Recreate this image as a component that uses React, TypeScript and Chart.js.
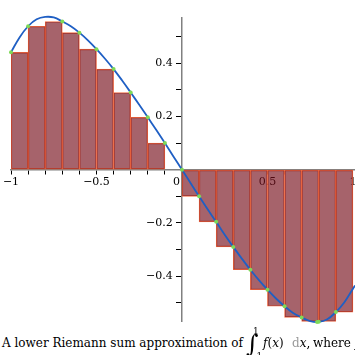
import React, { useEffect, useRef } from "react";
import { Chart, registerables } from "chart.js";

Chart.register(...registerables);

// Riemann rectangles: centre of each sub-interval and the lower-sum height
const barCenters = [
  -0.95, -0.85, -0.75, -0.65, -0.55, -0.45, -0.35, -0.25, -0.15, -0.05,
  0.05, 0.15, 0.25, 0.35, 0.45, 0.55, 0.65, 0.75, 0.85, 0.95,
];
const barHeights = [
  0.441, 0.539, 0.557, 0.515, 0.453, 0.378, 0.29, 0.197, 0.1, 0,
  -0.1, -0.196, -0.29, -0.376, -0.451, -0.513, -0.555, -0.571, -0.571, -0.535,
];

// the curve f(x)
const curveX = [
  -1, -0.95, -0.9, -0.85, -0.8, -0.75, -0.7, -0.65, -0.6, -0.55, -0.5,
  -0.45, -0.4, -0.35, -0.3, -0.25, -0.2, -0.15, -0.1, -0.05, 0,
  0.05, 0.1, 0.15, 0.2, 0.25, 0.3, 0.35, 0.4, 0.45, 0.5,
  0.55, 0.6, 0.65, 0.7, 0.75, 0.8, 0.85, 0.9, 0.95, 1, 1.012,
];
const curveY = [
  0.441, 0.497, 0.539, 0.565, 0.574, 0.572, 0.557, 0.539, 0.515, 0.486, 0.453,
  0.417, 0.378, 0.335, 0.29, 0.244, 0.197, 0.149, 0.1, 0.05, 0,
  -0.05, -0.1, -0.149, -0.196, -0.244, -0.29, -0.334, -0.376, -0.415, -0.451,
  -0.484, -0.513, -0.538, -0.555, -0.569, -0.572, -0.562, -0.535, -0.498, -0.447, -0.435,
];

// sample points where each rectangle touches the curve
const sampleX = [-1, -0.9, -0.7, -0.6, -0.5, -0.4, -0.3, -0.2, -0.1, 0, 0.1, 0.2, 0.3, 0.4, 0.5, 0.6, 0.7, 0.79, 0.8, 0.9];
const sampleY = [0.441, 0.539, 0.557, 0.515, 0.453, 0.378, 0.29, 0.197, 0.1, 0, -0.1, -0.196, -0.29, -0.376, -0.451, -0.513, -0.555, -0.572, -0.571, -0.535];

const xLabelValues = [-1, -0.5, 0, 0.5, 1];
const yLabelValues = [0.4, 0.2, -0.2, -0.4];

const fmt = (v: number) => {
  const s = String(Math.abs(v));
  return v < 0 ? "\u2212" + s : s;
};

const capFont = "'DejaVu Serif', serif";

function App() {
  const ref = useRef<HTMLCanvasElement | null>(null);

  useEffect(() => {
    if (!ref.current) return;
    const chart = new Chart(ref.current, {
      type: "bar",
      data: {
        datasets: [
          {
            type: "scatter",
            data: sampleX.map((x, i) => ({ x, y: sampleY[i] })),
            backgroundColor: "#7ed957",
            borderColor: "#7ed957",
            pointRadius: 2,
            borderWidth: 0,
            clip: false,
            order: 1,
          } as any,
          {
            type: "line",
            data: curveX.map((x, i) => ({ x, y: curveY[i] })),
            borderColor: "#1f5fc4",
            borderWidth: 1.8,
            pointRadius: 0,
            tension: 0.4,
            fill: false,
            clip: false,
            order: 2,
          } as any,
          {
            type: "bar",
            data: barCenters.map((x, i) => ({ x, y: barHeights[i] })),
            backgroundColor: "rgba(118, 15, 27, 0.65)",
            borderColor: "#f26a40",
            borderWidth: 0.75,
            borderSkipped: false,
            barPercentage: 1,
            categoryPercentage: 1,
            order: 3,
          } as any,
        ],
      },
      options: {
        animation: false,
        responsive: false,
        devicePixelRatio: 1,
        layout: { padding: { left: 11, top: 18, right: 0, bottom: 3 } },
        plugins: { legend: { display: false }, tooltip: { enabled: false } },
        scales: {
          x: {
            type: "linear",
            min: -1,
            max: 1.012,
            offset: false,
            position: { y: 0 } as any,
            grid: { drawOnChartArea: false, drawTicks: true, tickLength: 4, tickColor: "#000", offset: false },
            border: { display: true, color: "#808080", width: 1.5 },
            ticks: {
              stepSize: 0.1,
              includeBounds: false,
              autoSkip: false,
              maxRotation: 0,
              padding: 2,
              color: "#000",
              font: { family: "'DejaVu Serif', serif", size: 11 },
              callback: (v: any) => {
                const n = Number(v);
                const m = xLabelValues.find((t) => Math.abs(t - n) < 1e-6);
                if (m === undefined) return "";
                if (m === 0) return "0\u2003";
                return fmt(m);
              },
            },
          },
          y: {
            type: "linear",
            min: -0.57,
            max: 0.57,
            position: { x: 0 } as any,
            grid: { drawOnChartArea: false, drawTicks: true, tickLength: 5, tickColor: "#000" },
            border: { display: true, color: "#808080", width: 1.5 },
            ticks: {
              stepSize: 0.1,
              includeBounds: false,
              autoSkip: false,
              padding: 4,
              color: "#000",
              font: { family: "'DejaVu Serif', serif", size: 11 },
              callback: (v: any) => {
                const n = Number(v);
                const m = yLabelValues.find((t) => Math.abs(t - n) < 1e-6);
                return m === undefined ? "" : fmt(m) + "\u2007\u2009";
              },
            },
          },
        },
      } as any,
    });
    return () => chart.destroy();
  }, []);

  const seg = (left: number, size = 12): React.CSSProperties => ({
    position: "absolute",
    left,
    top: 337,
    fontFamily: capFont,
    fontSize: size,
    lineHeight: "13px",
    whiteSpace: "nowrap",
    color: "#000",
  });

  return (
    <div style={{ position: "fixed", left: 0, top: 0, width: 355, height: 355, overflow: "hidden", background: "#fff" }}>
      <canvas ref={ref} width={359} height={332} style={{ position: "absolute", left: 0, top: 0 }} />
      <span style={seg(2, 12)}>A lower Riemann sum approximation of</span>
      <span style={{ position: "absolute", left: 246, top: 332, fontFamily: capFont, fontSize: 24, lineHeight: "24px" }}>∫</span>
      <span style={{ position: "absolute", left: 253, top: 327, fontFamily: capFont, fontSize: 9, lineHeight: "9px" }}>1</span>
      <span style={{ position: "absolute", left: 249, top: 352, fontFamily: capFont, fontSize: 9, lineHeight: "9px" }}>−1</span>
      <span style={seg(263)}>
        <i>f</i>(<i>x</i>)
      </span>
      <span style={seg(292)}>
        <span style={{ color: "#999" }}>d</span>
        <i>x</i>,
      </span>
      <span style={seg(313)}>
        where <i>f</i>
      </span>
    </div>
  );
}

export default App;
